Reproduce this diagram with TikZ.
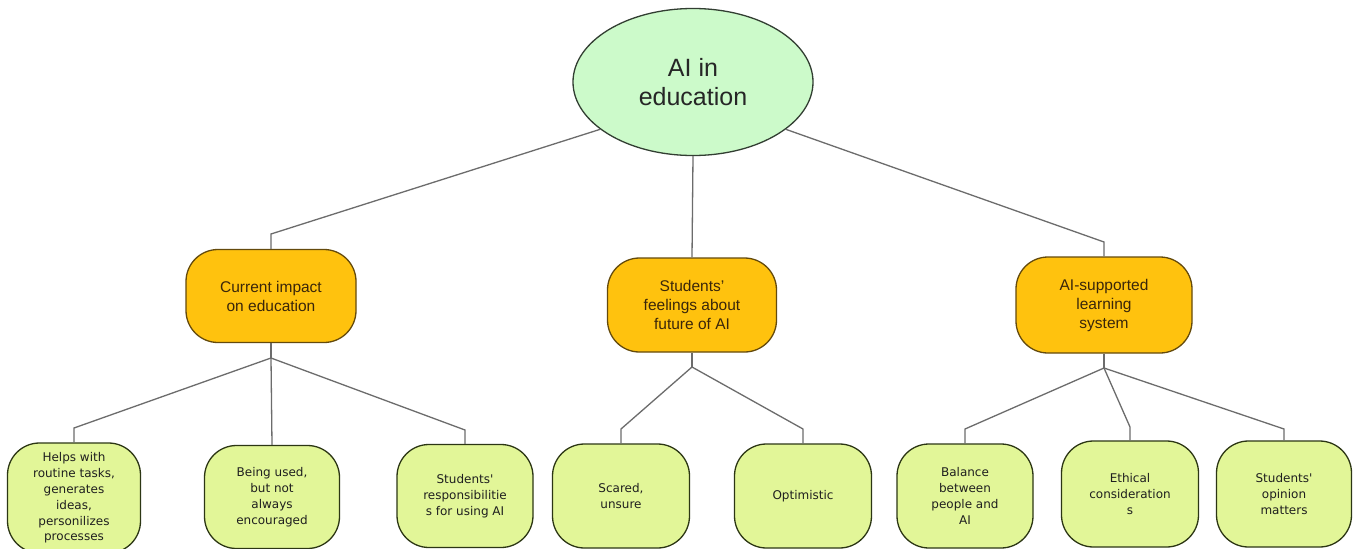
\documentclass[tikz,border=0pt]{standalone}
\usepackage{fontspec}
\setmainfont{Liberation Sans}
\newfontfamily\leaffont{DejaVu Sans}
\usetikzlibrary{shapes.geometric}

\definecolor{rootfill}{RGB}{204,250,202}
\definecolor{rootline}{RGB}{50,62,50}
\definecolor{midfill}{RGB}{255,194,14}
\definecolor{midline}{RGB}{100,74,12}
\definecolor{midtext}{RGB}{58,38,10}
\definecolor{leaffill}{RGB}{226,246,152}
\definecolor{leafline}{RGB}{44,54,20}
\definecolor{wire}{RGB}{108,108,108}

\tikzset{
  rootnode/.style={ellipse, draw=rootline, line width=1.3pt, fill=rootfill,
    minimum width=240pt, minimum height=147pt, inner sep=0pt, align=center,
    text=black!85, font=\fontsize{25}{29}\selectfont},
  topicbox/.style={rectangle, rounded corners=32pt, draw=midline, line width=1.3pt,
    fill=midfill, inner sep=0pt, align=center, text=midtext,
    font=\fontsize{15.5}{19}\selectfont},
  leafbox/.style={rectangle, rounded corners=32pt, draw=leafline, line width=1.3pt,
    fill=leaffill, inner sep=0pt, align=center, text=black!88,
    font=\leaffont\fontsize{12}{15.8}\selectfont},
  wirestyle/.style={draw=wire, line width=1.3pt},
}

\begin{document}
\begin{tikzpicture}[x=1pt, y=-1pt]
\useasboundingbox[fill=white] (0,0) rectangle (1358,549);

% root
\node[rootnode] (root) at (693,82) {AI in\\education};

% three topics
\node[topicbox, minimum width=170pt, minimum height=93pt] (c1) at (271,296) {Current impact\\on education};
\node[topicbox, minimum width=169pt, minimum height=94pt] (c2) at (692,305) {Students'\\feelings about\\future of AI};
\node[topicbox, minimum width=176pt, minimum height=96pt] (c3) at (1104,305) {AI-supported\\learning\\system};

% leaves
\node[leafbox, minimum width=133pt, minimum height=110pt] (l1) at (74,498) {Helps with\\routine tasks,\\generates\\ideas,\\personilizes\\processes};
\node[leafbox, minimum width=135pt, minimum height=103pt] (l2) at (272,497) {Being used,\\but not\\always\\encouraged};
\node[leafbox, minimum width=136pt, minimum height=103pt] (l3) at (465,496) {Students'\\responsibilitie\\s for using AI};
\node[leafbox, minimum width=137pt, minimum height=104pt] (l4) at (621,496) {Scared,\\unsure};
\node[leafbox, minimum width=137pt, minimum height=104pt] (l5) at (803,496) {Optimistic};
\node[leafbox, minimum width=136pt, minimum height=104pt] (l6) at (965,496) {Balance\\between\\people and\\AI};
\node[leafbox, minimum width=137pt, minimum height=106pt] (l7) at (1130,494) {Ethical\\consideration\\s};
\node[leafbox, minimum width=135pt, minimum height=106pt] (l8) at (1284,494) {Students'\\opinion\\matters};

% junction points
\coordinate (k1) at (271,234);
\coordinate (k3) at (1104,242);
\coordinate (j1) at (271,358);
\coordinate (j2) at (692,367);
\coordinate (j3) at (1104,368);

% root to topics
\draw[wirestyle] (root.207) -- (k1) -- (c1.north);
\draw[wirestyle] (root.south) -- (c2.north);
\draw[wirestyle] (root.333) -- (k3) -- (c3.north);

% first group
\draw[wirestyle] (c1.south) -- (j1);
\draw[wirestyle] (j1) -- (l1.north |- 0,428) -- (l1.north);
\draw[wirestyle] (j1) -- (l2.north);
\draw[wirestyle] (j1) -- (l3.north |- 0,430) -- (l3.north);

% second group
\draw[wirestyle] (c2.south) -- (j2);
\draw[wirestyle] (j2) -- (l4.north |- 0,429) -- (l4.north);
\draw[wirestyle] (j2) -- (l5.north |- 0,429) -- (l5.north);

% third group
\draw[wirestyle] (c3.south) -- (j3);
\draw[wirestyle] (j3) -- (l6.north |- 0,429) -- (l6.north);
\draw[wirestyle] (j3) -- (l7.north |- 0,427) -- (l7.north);
\draw[wirestyle] (j3) -- (l8.north |- 0,429) -- (l8.north);
\end{tikzpicture}
\end{document}
